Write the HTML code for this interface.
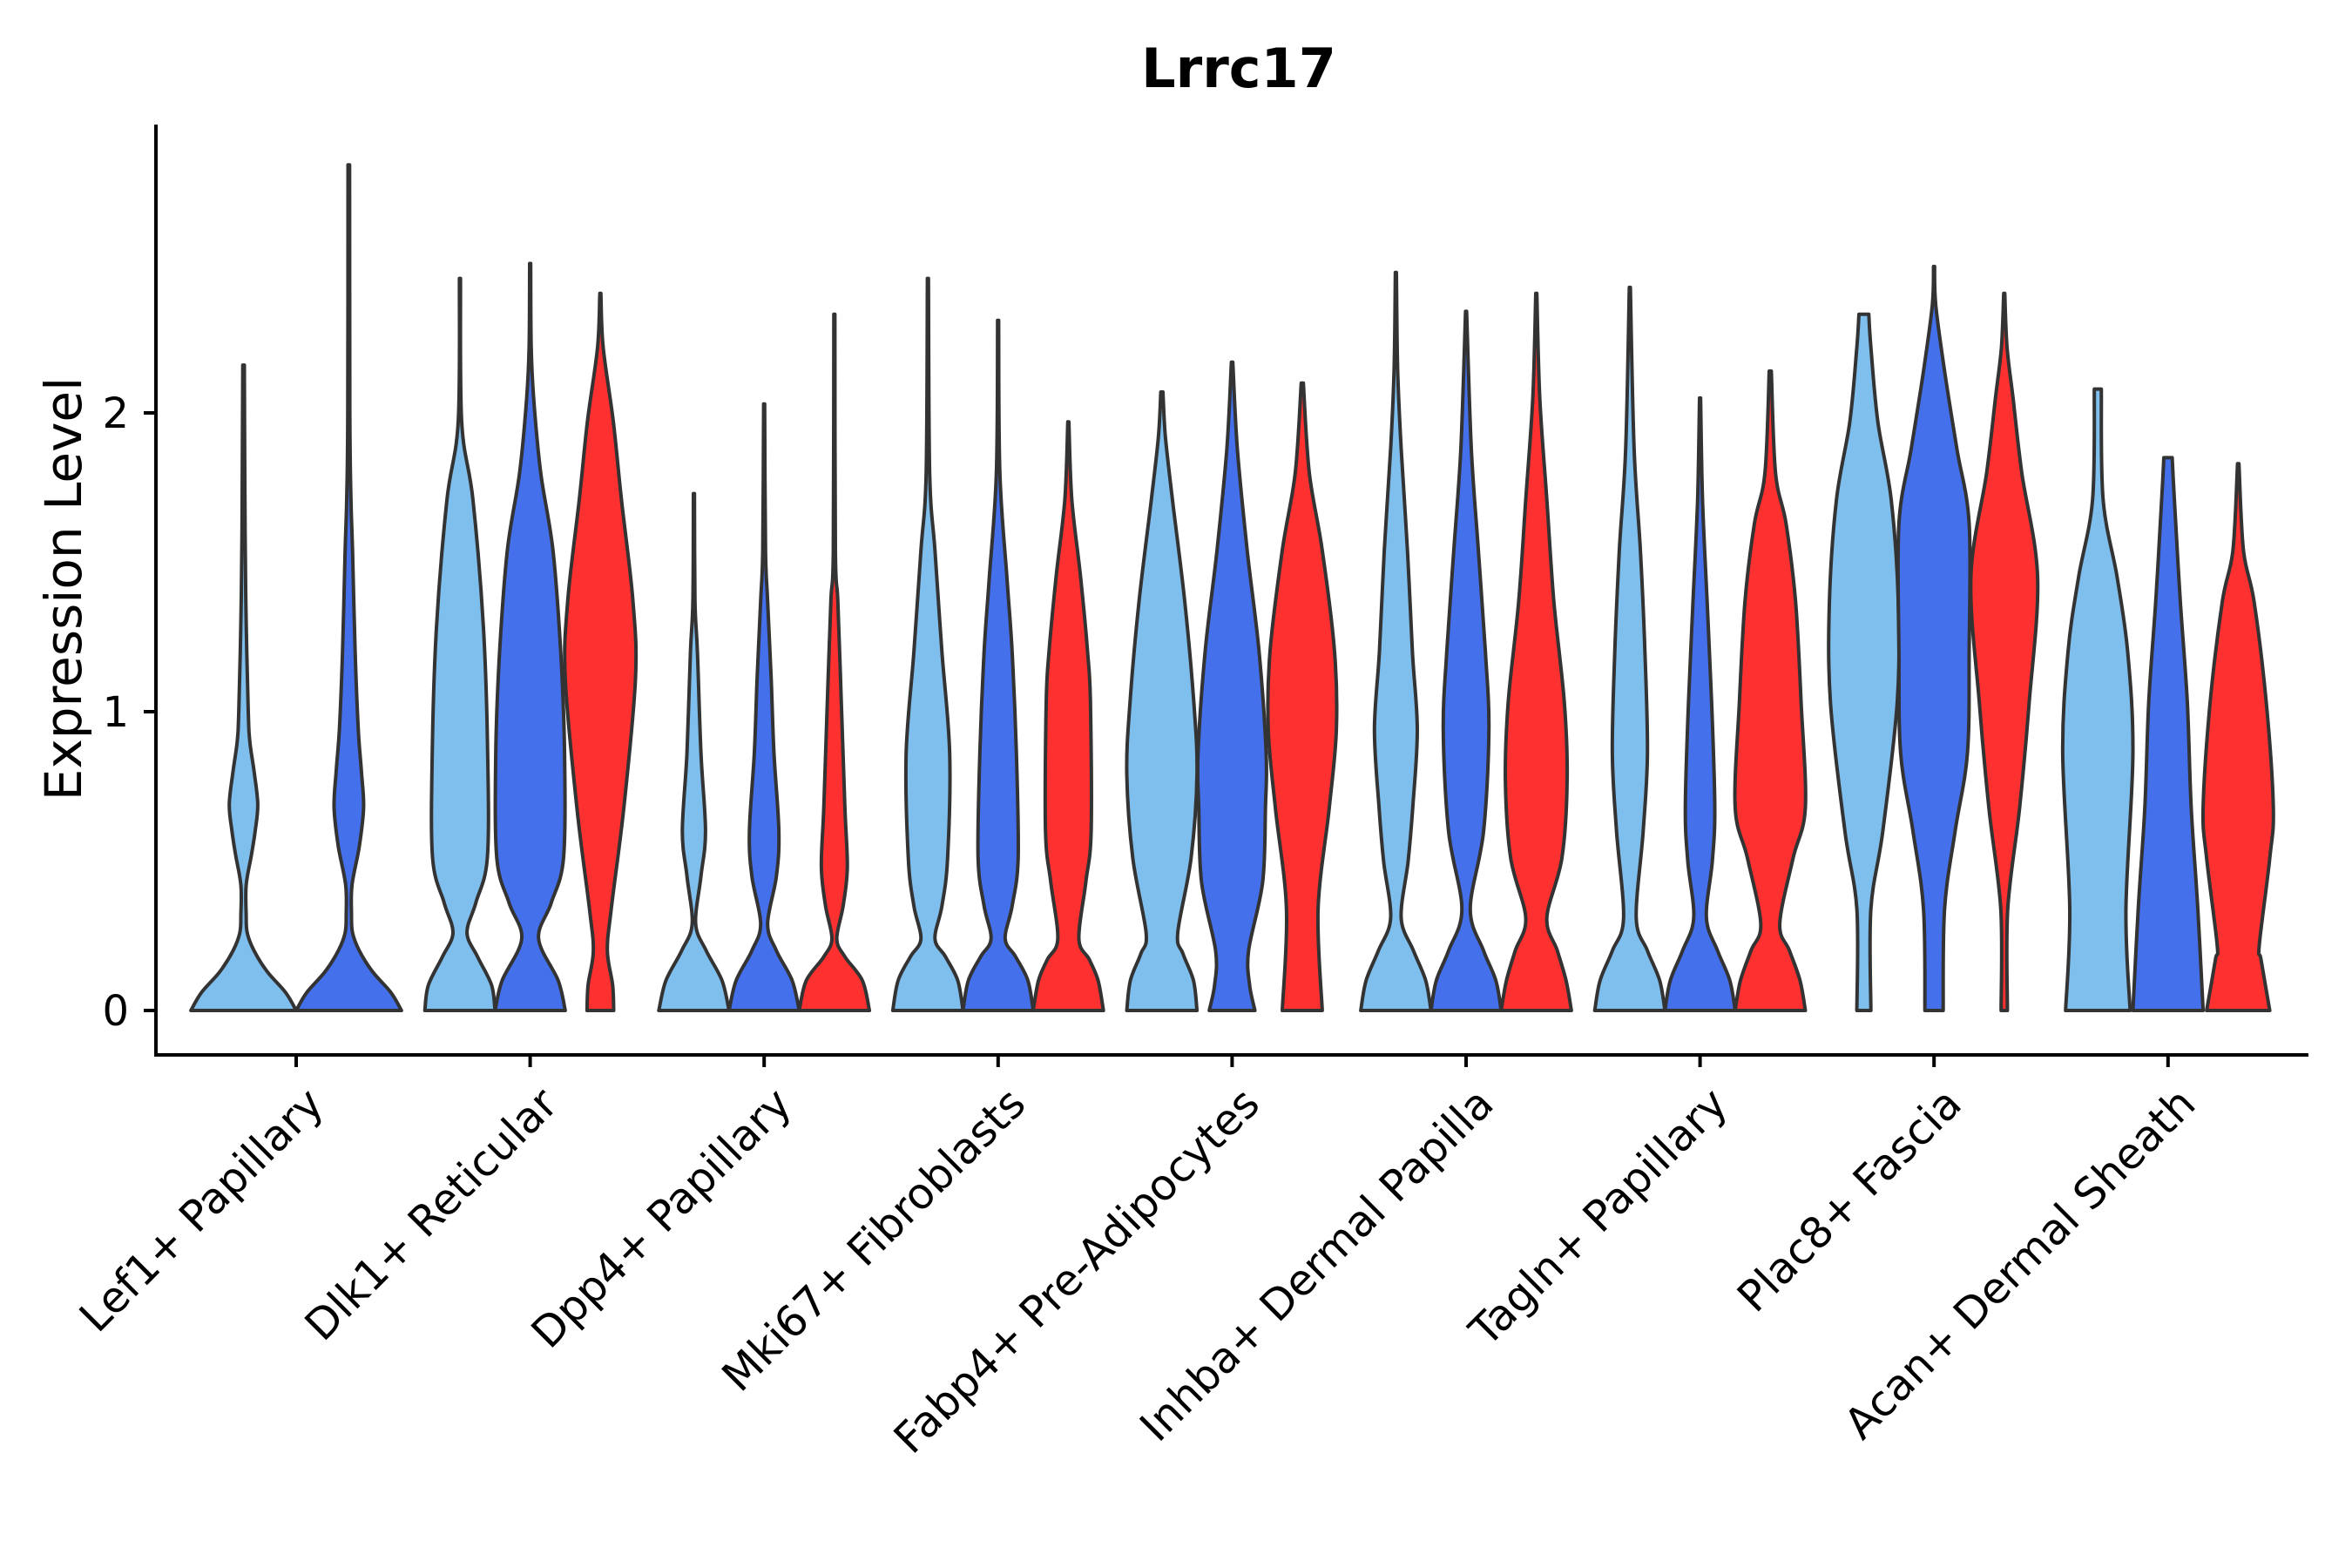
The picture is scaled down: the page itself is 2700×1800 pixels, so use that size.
<!DOCTYPE html>
<html><head><meta charset="utf-8"><style>
html,body{margin:0;padding:0;background:#fff;}
svg{display:block;}
text{font-family:"DejaVu Sans","Liberation Sans",sans-serif;}
</style></head><body>
<svg id="chart" width="2700" height="1800" viewBox="0 0 2700 1800">
<rect width="2700" height="1800" fill="#fff"/>
<text x="1422" y="100" font-size="62" font-weight="bold" text-anchor="middle">Lrrc17</text>
<text transform="translate(93,676) rotate(-90)" font-size="58" text-anchor="middle">Expression Level</text>
<g id="violins"></g>
<g id="axes"></g>
</svg>
<script>
const categories = ["Lef1+ Papillary","Dlk1+ Reticular","Dpp4+ Papillary","Mki67+ Fibroblasts","Fabp4+ Pre-Adipocytes","Inhba+ Dermal Papilla","Tagln+ Papillary","Plac8+ Fascia","Acan+ Dermal Sheath"];
const yTicks = [0,1,2];
const seriesNames = ["light","blue","red"];
const seriesColors = ["#7FBFEE","#4470EC","#FF3030"];
// profiles: [expression value, relative half-width]
const lightProfiles = [
 [[0,1],[0.06,0.8],[0.13,0.45],[0.2,0.2],[0.26,0.07],[0.32,0.05],[0.42,0.05],[0.52,0.15],[0.6,0.22],[0.69,0.27],[0.8,0.2],[0.9,0.12],[1.0,0.09],[1.3,0.05],[1.6,0.03],[2.16,0.015]],
 [[0,1],[0.085,0.9],[0.18,0.5],[0.26,0.2],[0.36,0.45],[0.51,0.78],[0.86,0.79],[1.28,0.67],[1.71,0.37],[1.97,0.05],[2.45,0.015]],
 [[0,1],[0.1,0.8],[0.2,0.35],[0.29,0.05],[0.45,0.2],[0.6,0.33],[0.86,0.2],[1.2,0.1],[1.37,0.03],[1.73,0.015]],
 [[0,1],[0.1,0.85],[0.18,0.5],[0.24,0.2],[0.35,0.4],[0.51,0.56],[0.86,0.62],[1.2,0.4],[1.54,0.2],[1.8,0.05],[2.45,0.015]],
 [[0,1],[0.1,0.9],[0.19,0.6],[0.26,0.45],[0.51,0.83],[0.79,1.0],[1.03,0.91],[1.37,0.65],[1.71,0.3],[1.92,0.1],[2.07,0.03]],
 [[0,1],[0.1,0.85],[0.2,0.5],[0.31,0.15],[0.5,0.35],[0.68,0.48],[0.94,0.61],[1.2,0.47],[1.54,0.33],[1.88,0.15],[2.15,0.05],[2.47,0.015]],
 [[0,1],[0.1,0.85],[0.2,0.5],[0.31,0.18],[0.6,0.38],[0.86,0.5],[1.2,0.43],[1.54,0.3],[1.88,0.12],[2.42,0.015]],
 [[0,0.2],[0.34,0.2],[0.6,0.54],[1.03,0.95],[1.37,0.98],[1.71,0.78],[1.97,0.4],[2.22,0.2],[2.33,0.14]],
 [[0,0.92],[0.34,0.8],[0.86,1.0],[1.2,0.85],[1.45,0.55],[1.71,0.15],[2.08,0.1]]
];
const blueProfiles = [
 [[0,1],[0.06,0.8],[0.13,0.45],[0.2,0.2],[0.26,0.07],[0.32,0.05],[0.42,0.06],[0.55,0.2],[0.68,0.28],[0.8,0.24],[0.94,0.18],[1.2,0.12],[1.54,0.07],[1.71,0.04],[2.0,0.02],[2.83,0.015]],
 [[0,1],[0.1,0.8],[0.24,0.24],[0.36,0.6],[0.51,0.95],[0.86,0.98],[1.2,0.87],[1.54,0.65],[1.8,0.3],[2.05,0.1],[2.22,0.03],[2.5,0.015]],
 [[0,1],[0.1,0.8],[0.2,0.35],[0.29,0.1],[0.45,0.35],[0.6,0.42],[0.86,0.28],[1.11,0.2],[1.37,0.1],[1.54,0.04],[2.03,0.015]],
 [[0,1],[0.1,0.85],[0.18,0.5],[0.24,0.2],[0.35,0.4],[0.51,0.57],[0.86,0.52],[1.2,0.4],[1.45,0.25],[1.8,0.05],[2.31,0.015]],
 [[0,0.65],[0.085,0.5],[0.2,0.47],[0.43,0.87],[0.68,0.95],[0.86,0.97],[1.2,0.77],[1.54,0.43],[1.88,0.15],[2.17,0.02]],
 [[0,1],[0.1,0.85],[0.2,0.5],[0.34,0.12],[0.6,0.5],[0.94,0.65],[1.2,0.55],[1.54,0.35],[1.88,0.15],[2.34,0.015]],
 [[0,1],[0.1,0.85],[0.2,0.5],[0.31,0.18],[0.5,0.35],[0.68,0.42],[1.03,0.33],[1.37,0.2],[1.71,0.07],[2.05,0.015]],
 [[0,0.26],[0.34,0.3],[0.6,0.6],[0.86,0.95],[1.2,1.0],[1.63,1.0],[1.88,0.65],[2.14,0.3],[2.36,0.05],[2.49,0.015]],
 [[0,1],[0.34,0.85],[0.68,0.66],[1.03,0.55],[1.37,0.35],[1.71,0.18],[1.85,0.12]]
];
const redProfiles = [
 null,
 [[0,0.38],[0.085,0.35],[0.2,0.2],[0.34,0.31],[0.68,0.67],[1.11,1.0],[1.37,0.93],[1.71,0.6],[1.97,0.37],[2.22,0.08],[2.4,0.015]],
 [[0,1],[0.1,0.8],[0.18,0.3],[0.24,0.07],[0.35,0.25],[0.48,0.37],[0.68,0.3],[1.03,0.2],[1.37,0.1],[1.54,0.03],[2.33,0.015]],
 [[0,1],[0.1,0.85],[0.17,0.6],[0.24,0.3],[0.43,0.5],[0.6,0.65],[1.03,0.63],[1.2,0.55],[1.45,0.35],[1.71,0.1],[1.97,0.015]],
 [[0,0.57],[0.34,0.45],[0.68,0.77],[0.94,0.97],[1.2,0.92],[1.54,0.57],[1.8,0.2],[2.1,0.03]],
 [[0,1],[0.1,0.85],[0.2,0.6],[0.31,0.3],[0.51,0.73],[0.77,0.88],[1.03,0.8],[1.37,0.5],[1.71,0.3],[2.05,0.1],[2.4,0.015]],
 [[0,1],[0.1,0.85],[0.2,0.55],[0.29,0.27],[0.51,0.65],[0.68,1.0],[1.03,0.88],[1.37,0.72],[1.63,0.45],[1.8,0.15],[2.14,0.03]],
 [[0,0.09],[0.34,0.1],[0.68,0.44],[1.03,0.71],[1.45,0.95],[1.8,0.5],[2.05,0.25],[2.22,0.08],[2.4,0.015]],
 [[0,0.9],[0.17,0.65],[0.22,0.6],[0.51,0.9],[0.68,1.0],[1.03,0.8],[1.37,0.45],[1.54,0.15],[1.83,0.02]]
];
const allProfiles = [lightProfiles, blueProfiles, redProfiles];

const NS = "http://www.w3.org/2000/svg";
const X0 = 340, STEP = 268.6, Y0 = 1160, YU = 343;
function xScale(i){ return X0 + i*STEP; }
function yScale(v){ return Y0 - v*YU; }

function crPath(pts){
  let d = "";
  for(let i=0;i<pts.length-1;i++){
    const p0 = pts[Math.max(0,i-1)], p1 = pts[i], p2 = pts[i+1], p3 = pts[Math.min(pts.length-1,i+2)];
    const c1 = [p1[0]+(p2[0]-p0[0])/6, p1[1]+(p2[1]-p0[1])/6];
    const c2 = [p2[0]-(p3[0]-p1[0])/6, p2[1]-(p3[1]-p1[1])/6];
    d += " C"+c1[0].toFixed(1)+","+c1[1].toFixed(1)+" "+c2[0].toFixed(1)+","+c2[1].toFixed(1)+" "+p2[0].toFixed(1)+","+p2[1].toFixed(1);
  }
  return d;
}

const vg = document.getElementById("violins");
categories.forEach((cat, ci) => {
  const present = [];
  allProfiles.forEach((arr, si) => { if(arr[ci]) present.push(si); });
  const n = present.length;
  const slot = 0.9*STEP/n;
  const hw = slot/2;
  present.forEach((si, k) => {
    const prof = allProfiles[si][ci];
    const cx = xScale(ci) + (k-(n-1)/2)*slot;
    const right = prof.map(p => [cx + p[1]*hw, yScale(p[0])]);
    const left = prof.slice().reverse().map(p => [cx - p[1]*hw, yScale(p[0])]);
    let d = "M"+left[left.length-1][0].toFixed(1)+","+left[left.length-1][1].toFixed(1);
    d += " L"+right[0][0].toFixed(1)+","+right[0][1].toFixed(1);
    d += crPath(right);
    d += " L"+left[0][0].toFixed(1)+","+left[0][1].toFixed(1);
    d += crPath(left);
    d += " Z";
    const path = document.createElementNS(NS, "path");
    path.setAttribute("d", d);
    path.setAttribute("fill", seriesColors[si]);
    path.setAttribute("stroke", "#333");
    path.setAttribute("stroke-width", "4");
    path.setAttribute("stroke-linejoin", "round");
    
    
    vg.appendChild(path);
  });
});

const ag = document.getElementById("axes");
function line(x1,y1,x2,y2,name){
  const l = document.createElementNS(NS,"line");
  l.setAttribute("x1",x1); l.setAttribute("y1",y1); l.setAttribute("x2",x2); l.setAttribute("y2",y2);
  l.setAttribute("stroke","#000"); l.setAttribute("stroke-width","4");
  
  
  ag.appendChild(l);
}
line(179,143,179,1213,"y-axis-line");
line(177,1211,2650,1211,"x-axis-line");
yTicks.forEach(t => {
  line(165,yScale(t),179,yScale(t),"y-tick");
  const tx = document.createElementNS(NS,"text");
  tx.setAttribute("x",148); tx.setAttribute("y",yScale(t)+17);
  tx.setAttribute("font-size","48"); tx.setAttribute("text-anchor","end");
  tx.textContent = String(t);
  
  
  ag.appendChild(tx);
});
categories.forEach((cat, ci) => {
  const x = xScale(ci);
  line(x,1211,x,1225,"x-tick");
  const tx = document.createElementNS(NS,"text");
  tx.setAttribute("transform","translate("+(x+34)+",1270) rotate(-45)");
  tx.setAttribute("font-size","49"); tx.setAttribute("text-anchor","end");
  tx.textContent = cat;
  
  
  ag.appendChild(tx);
});
</script>
</body></html>
